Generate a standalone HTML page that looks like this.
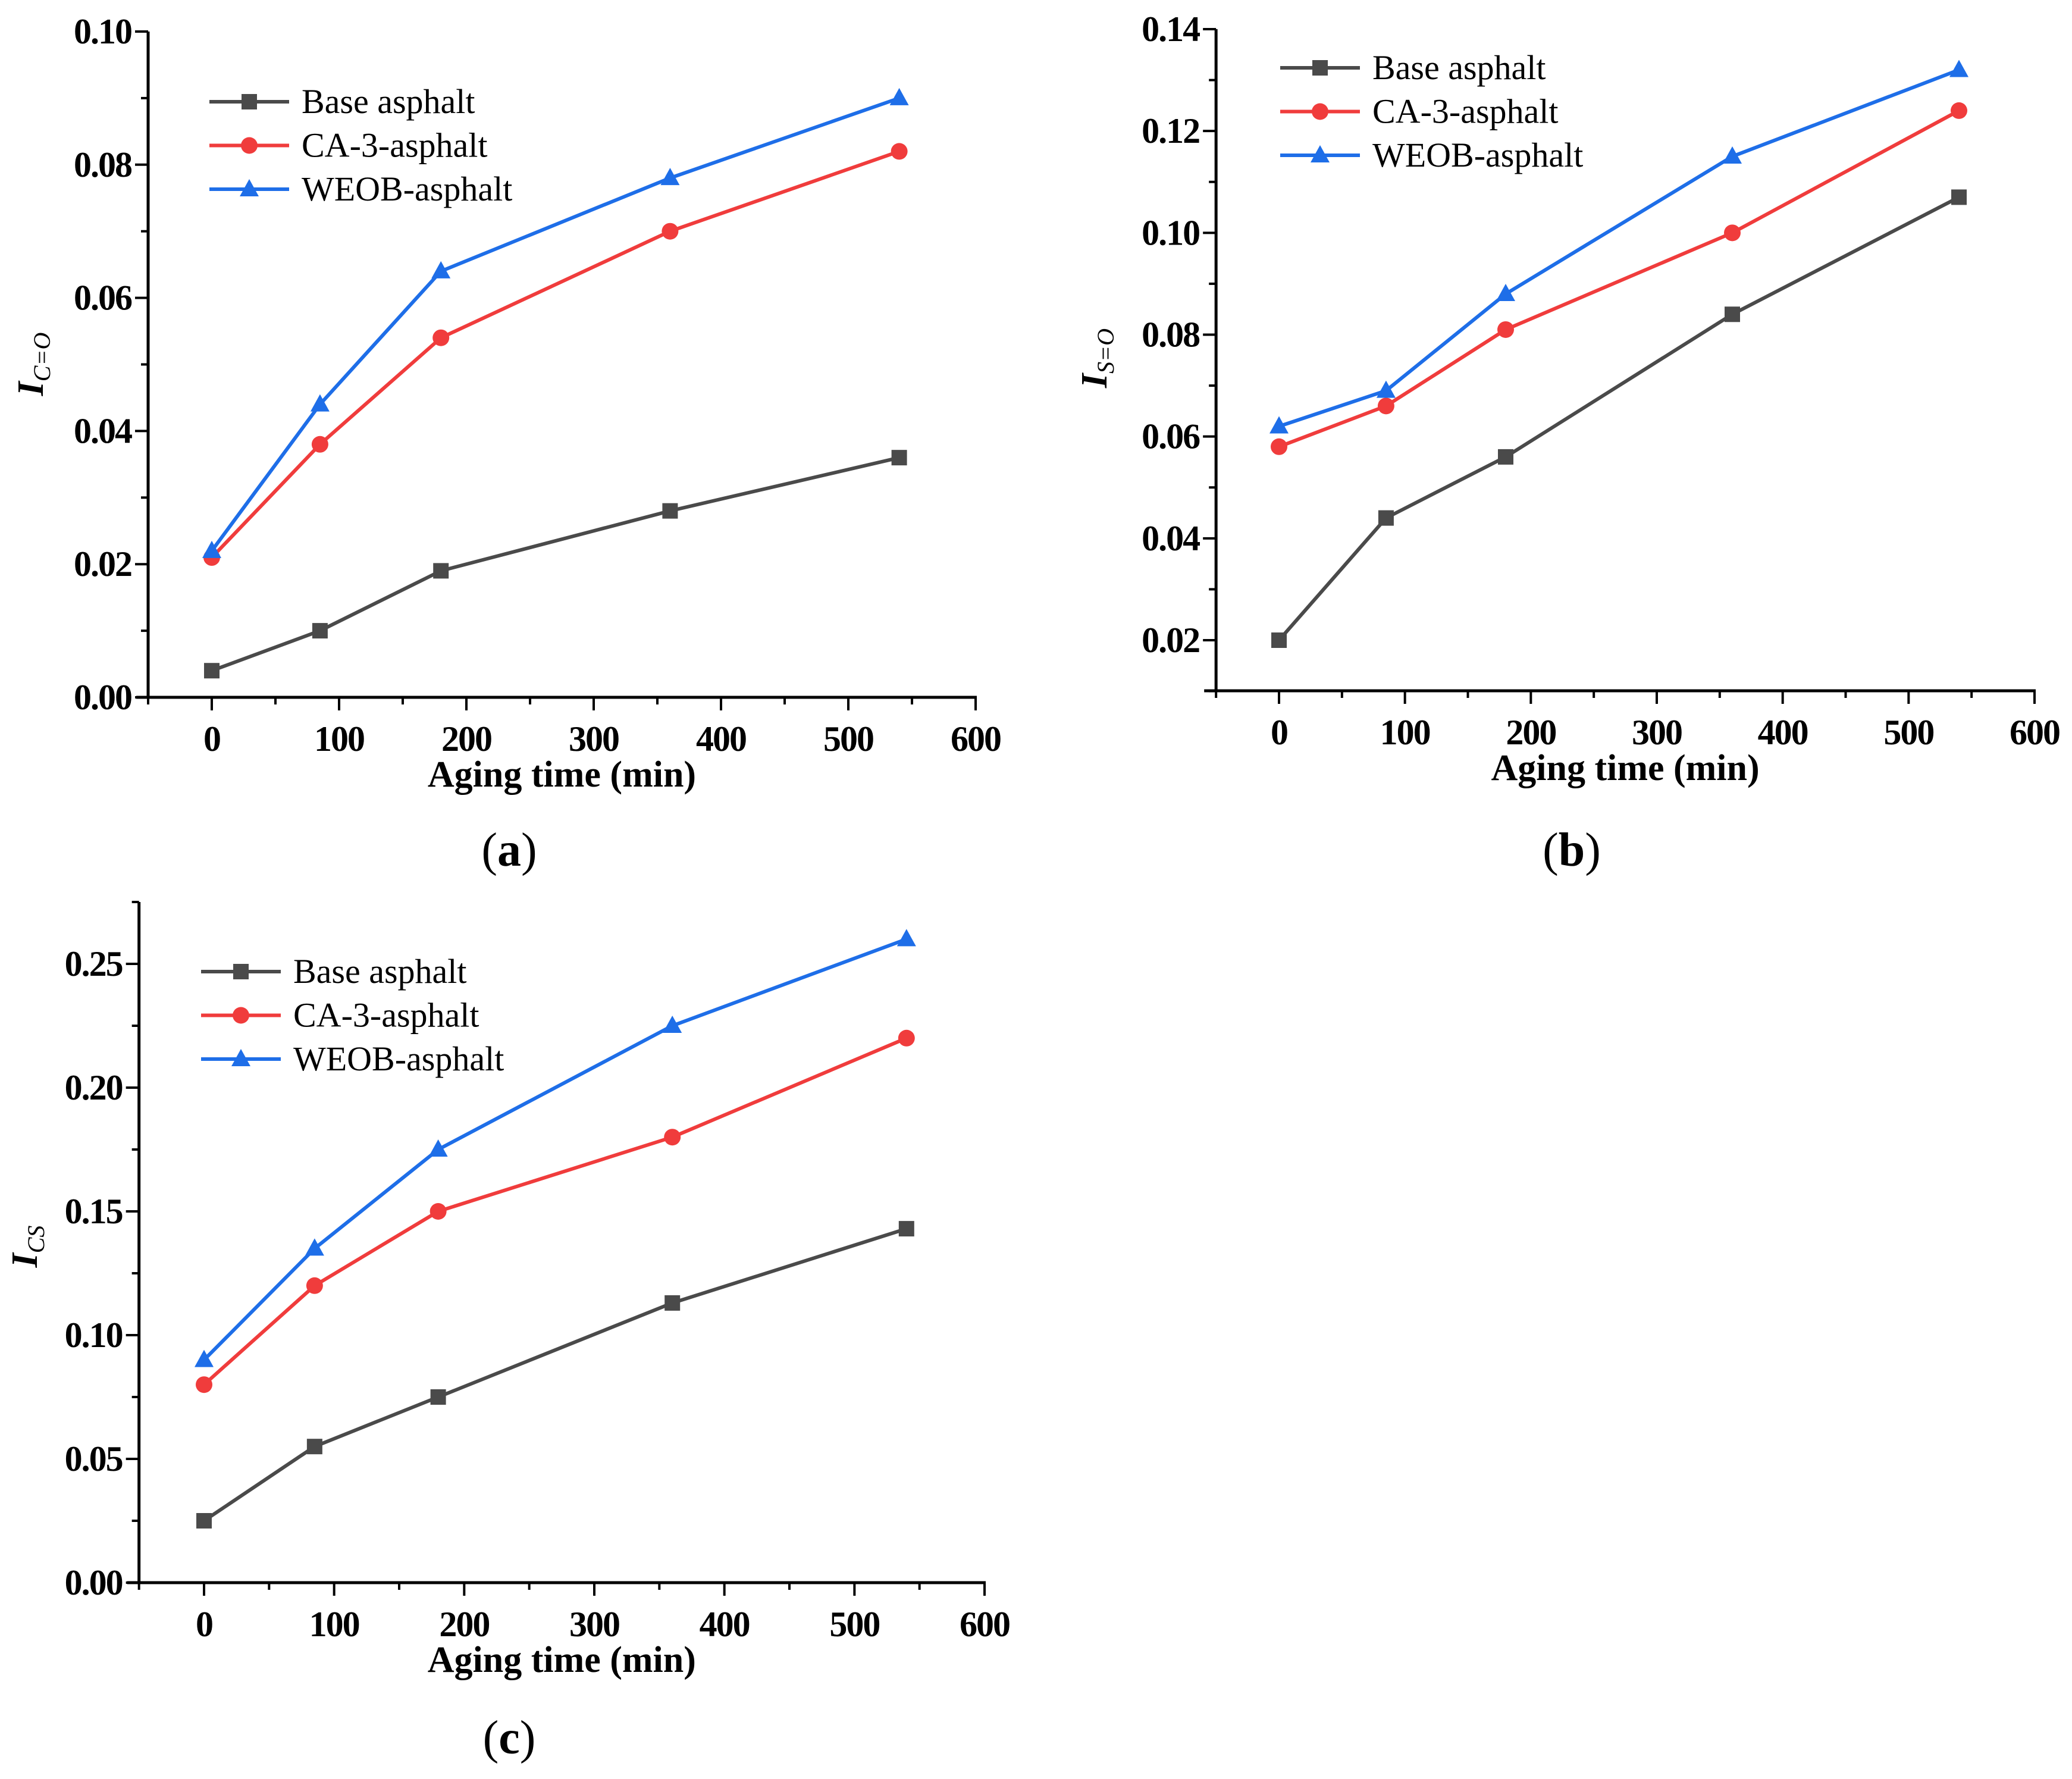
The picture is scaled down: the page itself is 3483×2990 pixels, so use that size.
<!DOCTYPE html>
<html><head><meta charset="utf-8"><style>
html,body{margin:0;padding:0;background:#fff}
svg{display:block}
text{font-family:"Liberation Serif",serif;fill:#000}
</style></head><body>
<svg id="fig" width="3483" height="2990" viewBox="0 0 3483 2990" xmlns="http://www.w3.org/2000/svg"></svg>
<script>
const agingTimes = [0, 85, 180, 360, 540];
const seriesNames = ["Base asphalt", "CA-3-asphalt", "WEOB-asphalt"];
const aBase = [0.004, 0.010, 0.019, 0.028, 0.036];
const aCA = [0.021, 0.038, 0.054, 0.070, 0.082];
const aWEOB = [0.022, 0.044, 0.064, 0.078, 0.090];
const bBase = [0.020, 0.044, 0.056, 0.084, 0.107];
const bCA = [0.058, 0.066, 0.081, 0.100, 0.124];
const bWEOB = [0.062, 0.069, 0.088, 0.115, 0.132];
const cBase = [0.025, 0.055, 0.075, 0.113, 0.143];
const cCA = [0.080, 0.120, 0.150, 0.180, 0.220];
const cWEOB = [0.090, 0.135, 0.175, 0.225, 0.260];
const xTickLabels = ["0", "100", "200", "300", "400", "500", "600"];
const aYTicks = ["0.00", "0.02", "0.04", "0.06", "0.08", "0.10"];
const bYTicks = ["0.02", "0.04", "0.06", "0.08", "0.10", "0.12", "0.14"];
const cYTicks = ["0.00", "0.05", "0.10", "0.15", "0.20", "0.25"];

const NS = "http://www.w3.org/2000/svg";
const svg = document.getElementById("fig");
const colors = ["#4a4a4a", "#f03c3c", "#1e6ee8"];
function mk(tag, attrs, parent) {
  const e = document.createElementNS(NS, tag);
  for (const k in attrs) e.setAttribute(k, attrs[k]);
  (parent || svg).appendChild(e);
  return e;
}
function marker(g, kind, x, y, c) {
  let m;
  if (kind === 0) m = mk("rect", {x: x - 13, y: y - 13, width: 26, height: 26, fill: c}, g);
  else if (kind === 1) m = mk("circle", {cx: x, cy: y, r: 14, fill: c}, g);
  else m = mk("polygon", {points: `${x},${y - 17} ${x + 16},${y + 12} ${x - 16},${y + 12}`, fill: c}, g);
  return m;
}
function panel(p) {
  const g = mk("g", {});
  
  
  const sx = v => p.x0 + (v / 600) * (p.x600 - p.x0);
  const sy = v => p.yRefPix - (v - p.yRef) * p.pxPerUnit;
  const xmin = sx(-50);
  const ax = mk("path", {d: `M${xmin - 20},${p.axisY} H${p.x600 + 2} M${xmin},${p.axisY + 2} V${sy(p.yTop)}`, stroke: "#000", "stroke-width": 5, fill: "none"}, g);
  
  
  for (let v = -50; v <= 600; v += 50) {
    const major = v % 100 === 0 && v >= 0;
    mk("line", {x1: sx(v), x2: sx(v), y1: p.axisY, y2: p.axisY + (major ? 22 : 12), stroke: "#000", "stroke-width": 4}, g);
  }
  xTickLabels.forEach((t, i) => {
    const el = mk("text", {x: sx(+t), y: p.axisY + 90, "font-size": 60, "font-weight": "bold", "text-anchor": "middle", "letter-spacing": "-2"}, g);
    el.textContent = t;
    
    
  });
  const ticks = p.yTicks.map(Number);
  const step = ticks[1] - ticks[0];
  for (let v = p.yMinorStart; v <= p.yTop + 1e-9; v += step / 2) {
    const major = ticks.some(t => Math.abs(t - v) < 1e-9);
    mk("line", {x1: xmin, x2: xmin - (major ? 22 : 12), y1: sy(v), y2: sy(v), stroke: "#000", "stroke-width": 4}, g);
  }
  p.yTicks.forEach(t => {
    const el = mk("text", {x: xmin - 28, y: sy(+t) + 20, "font-size": 60, "font-weight": "bold", "text-anchor": "end", "letter-spacing": "-2"}, g);
    el.textContent = t;
    
    
  });
  const xt = mk("text", {x: (xmin + p.x600) / 2, y: p.axisY + 150, "font-size": 62, "font-weight": "bold", "text-anchor": "middle"}, g);
  xt.textContent = "Aging time (min)";
  
  
  const yt = mk("text", {transform: `translate(${p.yTitleX},${p.yTitleY}) rotate(-90)`, "font-size": 62, "font-weight": "bold", "font-style": "italic", "text-anchor": "middle"}, g);
  yt.innerHTML = `I<tspan font-size="40" dy="12" font-weight="normal">${p.sub}</tspan>`;
  
  
  p.series.forEach((vals, si) => {
    const sg = mk("g", {}, g);
    
    
    const pts = vals.map((v, i) => `${sx(agingTimes[i])},${sy(v)}`).join(" ");
    mk("polyline", {points: pts, fill: "none", stroke: colors[si], "stroke-width": 6}, sg);
    vals.forEach((v, i) => {
      const m = marker(sg, si, sx(agingTimes[i]), sy(v), colors[si]);
      
      
    });
  });
  seriesNames.forEach((n, i) => {
    const ly = p.legY + i * 73.5;
    const lg = mk("g", {}, g);
    
    
    mk("line", {x1: p.legX, x2: p.legX + 134, y1: ly, y2: ly, stroke: colors[i], "stroke-width": 6}, lg);
    marker(lg, i, p.legX + 67, ly, colors[i]);
    const t = mk("text", {x: p.legX + 155, y: ly + 19, "font-size": 58}, lg);
    t.textContent = n;
  });
  const cap = mk("text", {x: p.capX, y: p.capY, "font-size": 80, "text-anchor": "middle"}, g);
  cap.innerHTML = `(<tspan font-weight="bold">${p.id}</tspan>)`;
  
  
}
panel({id: "a", x0: 356, x600: 1640, axisY: 1172, yRef: 0, yRefPix: 1172, pxPerUnit: (1172 - 53) / 0.10,
  yTop: 0.10, yMinorStart: 0, yTicks: aYTicks, sub: "C=O", yTitleX: 72, yTitleY: 612,
  series: [aBase, aCA, aWEOB], legX: 352, legY: 171, capX: 856, capY: 1455});
panel({id: "b", x0: 2150, x600: 3420, axisY: 1161, yRef: 0.02, yRefPix: 1076, pxPerUnit: (1076 - 49) / 0.12,
  yTop: 0.14, yMinorStart: 0.01, yTicks: bYTicks, sub: "S=O", yTitleX: 1860, yTitleY: 602,
  series: [bBase, bCA, bWEOB], legX: 2152, legY: 114, capX: 2642, capY: 1455});
panel({id: "c", x0: 343, x600: 1655, axisY: 2660, yRef: 0, yRefPix: 2660, pxPerUnit: (2660 - 1620) / 0.25,
  yTop: 0.275, yMinorStart: 0, yTicks: cYTicks, sub: "CS", yTitleX: 62, yTitleY: 2095,
  series: [cBase, cCA, cWEOB], legX: 338, legY: 1633, capX: 856, capY: 2947});
</script>
</body></html>
